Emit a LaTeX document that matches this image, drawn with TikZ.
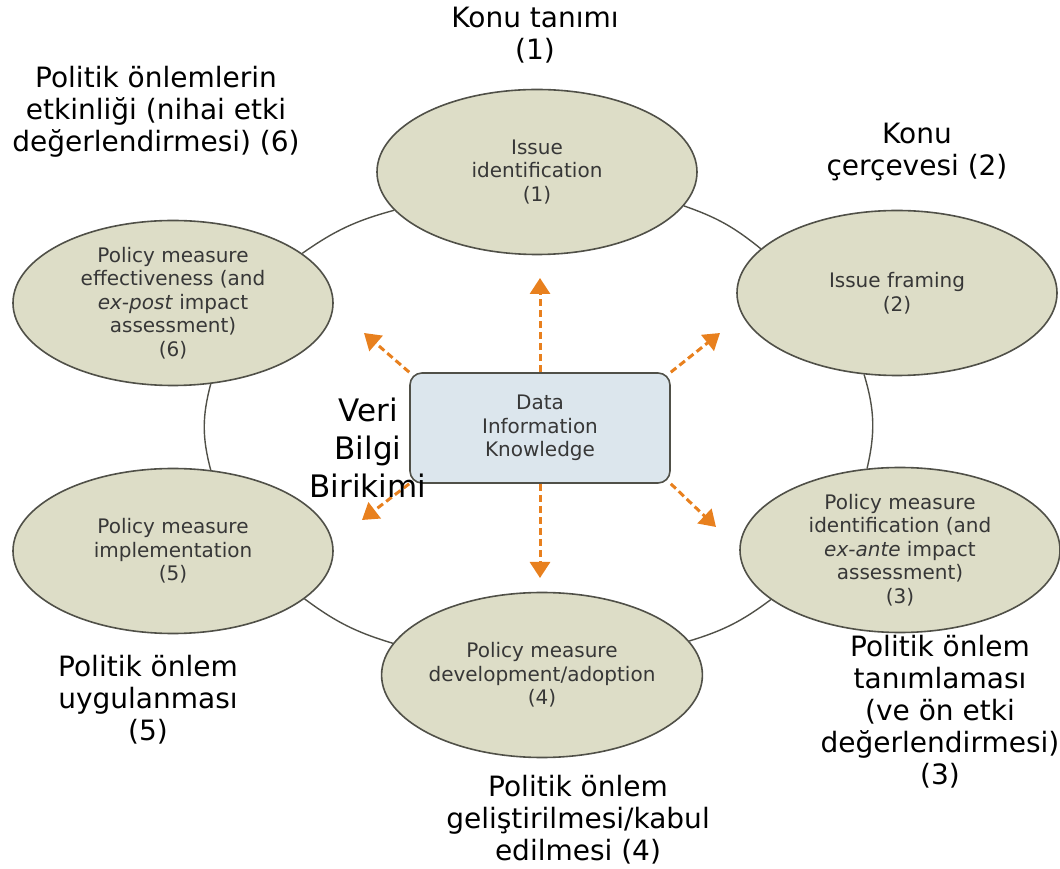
\documentclass[tikz,border=0pt]{standalone}
\usepackage{fontspec}
\setmainfont{DejaVu Sans}
\usetikzlibrary{shapes.geometric,arrows.meta}

\definecolor{stagefill}{RGB}{221,221,199}
\definecolor{stageline}{RGB}{80,80,72}
\definecolor{hubfill}{RGB}{220,230,237}
\definecolor{flowcol}{RGB}{232,128,30}
\definecolor{innertext}{RGB}{55,55,55}

\begin{document}
\begin{tikzpicture}[x=1pt,y=1pt,
  stage/.style={ellipse, draw=stageline, line width=1.6pt, fill=stagefill,
    minimum width=320pt, minimum height=165pt, inner sep=0pt, align=center,
    text=innertext, font=\fontsize{20}{23.5}\selectfont},
  hub/.style={rectangle, rounded corners=12pt, draw=stageline, line width=1.6pt,
    fill=hubfill, minimum width=260pt, minimum height=110pt, align=center,
    text=innertext, font=\fontsize{20}{23.5}\selectfont},
  ring/.style={draw=stageline, line width=1.4pt},
  flow/.style={draw=flowcol, line width=3pt, dash pattern=on 7pt off 4pt,
    -{Triangle[width=20pt,length=16pt]}},
  caption/.style={align=center, inner sep=0pt, font=\fontsize{28}{32}\selectfont}]

\useasboundingbox (0,0) rectangle (1060,868);

% the six stages of the cycle
\node[stage] (issue)   at (537,696) {Issue\\identification\\(1)};
\node[stage] (framing) at (897,575) {Issue framing\\(2)};
\node[stage] (ident)   at (900,318) {Policy measure\\identification (and\\\textit{ex-ante} impact\\assessment)\\(3)};
\node[stage] (adopt)   at (542,193) {Policy measure\\development/adoption\\(4)};
\node[stage] (impl)    at (173,317) {Policy measure\\implementation\\(5)};
\node[stage] (effect)  at (173,565) {Policy measure\\effectiveness (and\\\textit{ex-post} impact\\assessment)\\(6)};

% ring between the stages
\draw[ring] (issue.195)   to[bend right=10] (effect.21);
\draw[ring] (effect.295)  to[bend right=15] (impl.65);
\draw[ring] (impl.340)    to[bend right=10] (adopt.168);
\draw[ring] (adopt.13)    to[bend right=10] (ident.201);
\draw[ring] (ident.112)   to[bend right=15] (framing.248);
\draw[ring] (framing.162) to[bend right=10] (issue.347);

% centre box and its arrows
\node[hub] (hub) at (540,440) {Data\\Information\\Knowledge};

\coordinate (tipN)  at (540,590);
\coordinate (tipNE) at (720,535);
\coordinate (tipNW) at (364,535);
\coordinate (tipS)  at (540,290);
\coordinate (tipSE) at (716,341);
\coordinate (tipSW) at (362,348);

\foreach \a/\t in {north/tipN, north east/tipNE, north west/tipNW,
                   south/tipS, south east/tipSE, south west/tipSW}
  \draw[flow] (hub.\a) -- (\t);

% Turkish captions
\node[caption] (capissue)   at (535,833) {Konu tanımı\\(1)};
\node[caption] (capframing) at (917,716) {Konu\\çerçevesi (2)};
\node[caption] (capident)   at (940,156) {Politik önlem\\tanımlaması\\(ve ön etki\\değerlendirmesi)\\(3)};
\node[caption] (capadopt)   at (578,48)  {Politik önlem\\geliştirilmesi/kabul\\edilmesi (4)};
\node[caption] (capimpl)    at (148,168) {Politik önlem\\uygulanması\\(5)};
\node[caption] (capeffect)  at (156,756) {Politik önlemlerin\\etkinliği (nihai etki\\değerlendirmesi) (6)};
\node[caption, font=\fontsize{31}{38}\selectfont] (caphub) at (368,420) {Veri\\Bilgi\\Birikimi};

\end{tikzpicture}
\end{document}
